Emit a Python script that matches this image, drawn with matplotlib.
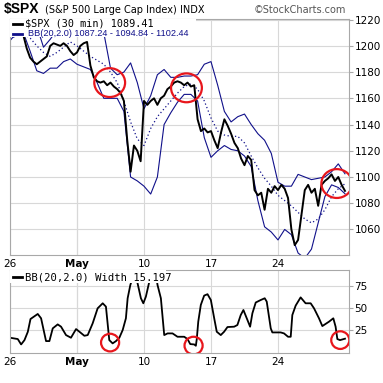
import numpy as np
import matplotlib
matplotlib.use("Agg")
import matplotlib.pyplot as plt
from matplotlib.patches import Ellipse, Rectangle

# x axis = trading days counted from Mon Apr 26 (30 min bars, sampled every 1/4 day)
price_days = np.arange(0, 25.01, 0.25)
price = [1212, 1215, 1217, 1214, 1208, 1198, 1191, 1188, 1186, 1188, 1190, 1192,
         1200, 1202, 1201, 1200, 1202, 1200, 1196, 1193, 1195, 1200, 1202, 1203,
         1185, 1176, 1173, 1172, 1173, 1170, 1172, 1169, 1167, 1164, 1158, 1128,
         1104, 1124, 1120, 1112, 1158, 1155, 1158, 1160, 1155, 1160, 1162, 1167,
         1169, 1172, 1173, 1172, 1170, 1172, 1169, 1170, 1144, 1135, 1137, 1134,
         1135, 1128, 1122, 1134, 1144, 1139, 1133, 1126, 1122, 1114, 1109, 1116,
         1113, 1090, 1086, 1088, 1075, 1091, 1088, 1093, 1090, 1094, 1091, 1084,
         1060, 1048, 1052, 1071, 1090, 1094, 1088, 1091, 1078, 1094, 1097, 1099,
         1102, 1097, 1100, 1094, 1089.41]

# Bollinger bands (20, 2.0), every 1/2 day
band_days = np.arange(0, 25.01, 0.5)
bb_upper = [1222, 1222, 1222, 1222, 1215, 1199, 1205, 1212, 1212, 1213, 1211, 1210,
            1212, 1213, 1210, 1183, 1178, 1180, 1187, 1172, 1152, 1162, 1178, 1182,
            1176, 1176, 1177, 1177, 1178, 1186, 1188, 1170, 1150, 1142, 1146, 1148,
            1140, 1133, 1128, 1118, 1096, 1093, 1093, 1102, 1100, 1098, 1099, 1100,
            1104, 1110, 1102.44]
bb_mid = [1205, 1208, 1209, 1206, 1200, 1195, 1192, 1195, 1199, 1203, 1200, 1196,
          1192, 1189, 1186, 1180, 1172, 1158, 1142, 1129, 1124, 1137, 1146, 1152,
          1158, 1164, 1169, 1171, 1167, 1158, 1145, 1135, 1132, 1131, 1131, 1126,
          1116, 1107, 1099, 1093, 1086, 1082, 1078, 1073, 1068, 1065, 1068, 1075,
          1085, 1091, 1094.84]
bb_lower = [1204, 1210, 1210, 1196, 1181, 1179, 1183, 1183, 1188, 1190, 1186, 1184,
            1182, 1172, 1160, 1160, 1160, 1150, 1100, 1097, 1093, 1087, 1100, 1140,
            1149, 1157, 1163, 1163, 1158, 1130, 1115, 1120, 1124, 1121, 1120, 1116,
            1108, 1082, 1062, 1058, 1052, 1060, 1056, 1042, 1038, 1045, 1065, 1085,
            1094, 1092, 1087.24]

# BB width indicator
width_days = [0, 0.58, 0.83, 1.08, 1.33, 1.53, 2.07, 2.32, 2.69, 2.94, 3.19, 3.56,
              3.81, 4.18, 4.55, 4.93, 5.18, 5.55, 5.80, 6.17, 6.54, 6.92, 7.16, 7.41,
              7.66, 7.91, 8.16, 8.41, 8.65, 8.78, 8.98, 9.15, 9.34, 9.52, 9.77, 9.95,
              10.14, 10.40, 10.64, 10.89, 11.01, 11.26, 11.51, 11.76, 12.13, 12.50,
              13.00, 13.25, 13.45, 13.75, 13.87, 13.94, 14.05, 14.24, 14.49, 14.74,
              14.99, 15.24, 15.43, 15.73, 15.98, 16.23, 16.73, 16.97, 17.22, 17.42,
              17.72, 17.92, 18.09, 18.34, 18.71, 19.01, 19.16, 19.46, 19.58, 20.20,
              20.45, 20.75, 20.95, 21.07, 21.32, 21.69, 22.06, 22.44, 22.69, 23.06,
              23.31, 23.81, 24.13, 24.30, 24.43, 24.63, 25.0]
width = [16.3, 14.8, 8.7, 13.6, 23, 37.5, 43.2, 38.3, 12.5, 12.5, 26.9, 31.4,
         28.8, 19.3, 16.3, 26.1, 23.1, 18.5, 19.3, 32.6, 49.6, 55.3, 51.5, 13.6,
         9.9, 12.5, 16.3, 25, 38.3, 61, 76, 84, 100, 78, 61, 55.3,
         62.8, 80, 100, 88, 76, 61, 19.3, 21.2, 21.2, 17.4,
         17.4, 14.8, 9.1, 8.7, 7.2, 14.8, 34.5, 53.4, 64, 65.6,
         59, 38.3, 23.1, 19.3, 23.1, 28.4, 28.8, 30.7, 42, 47.7,
         36.4, 28.8, 44, 56.2, 59, 61, 57.2, 26.9, 22.3, 22.3,
         21.2, 17.4, 17.4, 42, 52.7, 62, 55.3, 55.3, 49.6, 38.3,
         29.5, 34.5, 38.3, 28.8, 14.8, 13.6, 15.197]

xtick_days = [0, 5, 10, 15, 20]
xtick_labels = ['26', 'May', '10', '17', '24']
price_ticks = [1060, 1080, 1100, 1120, 1140, 1160, 1180, 1200, 1220]
width_ticks = [25, 50, 75]

# squeeze spots circled on the original: (day, price) and (day, width)
price_circles = [(7.44, 1172), (13.17, 1168), (24.39, 1095)]
width_circles = [(7.47, 10.8), (13.70, 7.4), (24.65, 13.6)]

navy = '#10108a'
grid_c = '#d8d8d8'
frame_c = '#a8a8a8'

fig = plt.figure(figsize=(3.83, 3.83), dpi=100)
ax = fig.add_axes([10/383, 1 - 255/383, 339/383, 236/383])
ax2 = fig.add_axes([10/383, 1 - 353/383, 339/383, 83/383])

for a in (ax, ax2):
    a.set_xlim(0, 25.3)
    a.set_xticks(xtick_days)
    a.set_xticklabels(xtick_labels)
    a.yaxis.tick_right()
    a.tick_params(axis='y', direction='out', length=3, color=frame_c, labelsize=7.5, pad=1)
    a.tick_params(axis='x', length=0, labelsize=7.5, pad=3)
    a.grid(True, color=grid_c, lw=0.8)
    a.set_axisbelow(True)
    for s in a.spines.values():
        s.set_color(frame_c)
    a.get_xticklabels()[1].set_fontweight('bold')
    a.axvline(5, color='#b8b8b8', lw=0.8, zorder=0.5)

# price panel
ax.set_ylim(1040.5, 1220.5)
ax.set_yticks(price_ticks)
ax.plot(band_days, bb_upper, color=navy, lw=0.8)
ax.plot(band_days, bb_lower, color=navy, lw=0.8)
ax.plot(band_days, bb_mid, color=navy, lw=0.9, ls=(0, (1, 2)))
ax.plot(price_days, price, color='black', lw=1.4)
for cx, cy in price_circles:
    ax.add_patch(Ellipse((cx, cy), 2.3, 22, fill=False, ec='#e8161c', lw=1.6, zorder=4))

ax.add_patch(Rectangle((0, 0.922), 0.55, 0.078, transform=ax.transAxes,
                       facecolor='white', edgecolor='none', zorder=5))
ax.plot([0.008, 0.035], [0.979, 0.979], transform=ax.transAxes, color='black', lw=2, zorder=6)
ax.text(0.045, 0.979, '$SPX (30 min) 1089.41', transform=ax.transAxes, va='center',
        family='DejaVu Sans Mono', fontsize=7.3, zorder=6)
ax.plot([0.008, 0.035], [0.937, 0.937], transform=ax.transAxes, color=navy, lw=2, zorder=6)
ax.text(0.053, 0.937, 'BB(20,2.0) 1087.24 - 1094.84 - 1102.44', transform=ax.transAxes,
        va='center', family='Liberation Sans', fontsize=6.6, color=navy, zorder=6)

# width panel
ax2.set_ylim(-1, 93)
ax2.set_yticks(width_ticks)
ax2.plot(width_days, width, color='black', lw=1.3)
for cx, cy in width_circles:
    ax2.add_patch(Ellipse((cx, cy), 1.35, 20, fill=False, ec='#e8161c', lw=1.6, zorder=4))
ax2.add_patch(Rectangle((0, 0.84), 0.46, 0.16, transform=ax2.transAxes,
                        facecolor='white', edgecolor='none', zorder=5))
ax2.plot([0.008, 0.035], [0.91, 0.91], transform=ax2.transAxes, color='black', lw=2, zorder=6)
ax2.text(0.045, 0.91, 'BB(20,2.0) Width 15.197', transform=ax2.transAxes, va='center',
         family='DejaVu Sans Mono', fontsize=7.6, zorder=6)

# header
fig.text(4/383, 1 - 9.5/383, '$SPX', fontsize=10, fontweight='bold', va='center',
         family='Liberation Sans')
fig.text(45/383, 1 - 10/383, '(S&P 500 Large Cap Index)', fontsize=7, va='center')
fig.text(180/383, 1 - 10/383, 'INDX', fontsize=7, va='center')
fig.text(346/383, 1 - 10/383, '\u00a9StockCharts.com', fontsize=7, va='center', ha='right',
         color='#555555')

fig.savefig('out.png', dpi=100)
